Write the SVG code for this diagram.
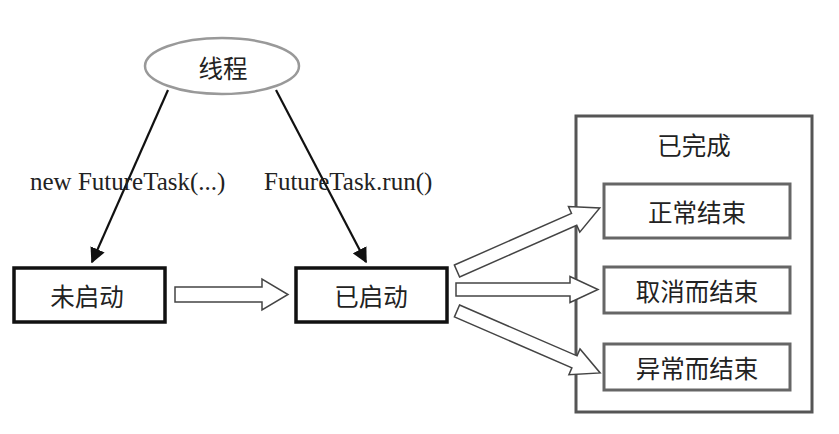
<svg xmlns="http://www.w3.org/2000/svg" width="839" height="434" viewBox="0 0 839 434">
<style>
.cn{font-family:"Noto Sans CJK SC","Noto Sans",sans-serif;font-size:24.5px;fill:#222;text-anchor:middle;dominant-baseline:central}
.lbl{font-family:"Liberation Serif",serif;font-size:25px;fill:#222}
.state{fill:#fff;stroke:#111;stroke-width:3.5}
.sub{fill:#fff;stroke:#666;stroke-width:3}
.hollow{fill:#fff;stroke:#444;stroke-width:1.5;stroke-linejoin:miter}
.line{stroke:#111;stroke-width:2.2;fill:none}
</style>
<defs>
<marker id="ah" viewBox="0 0 10 10" refX="9" refY="5" markerWidth="7" markerHeight="7" orient="auto" markerUnits="strokeWidth">
<path d="M0,0 L10,5 L0,10 z" fill="#111"/>
</marker>
</defs>
<rect width="839" height="434" fill="#fff"/>
<g id="thread">
<ellipse cx="222" cy="66" rx="77" ry="28" fill="#fff" stroke="#999" stroke-width="2.5"/>
<text class="cn" x="223" y="67">线程</text>
</g>
<g id="not-started">
<rect class="state" x="14" y="268" width="151" height="54"/>
<text class="cn" x="87" y="295">未启动</text>
</g>
<g id="started">
<rect class="state" x="296" y="268" width="151" height="54"/>
<text class="cn" x="371" y="295">已启动</text>
</g>
<g id="completed">
<rect x="576" y="116" width="236" height="296" fill="#fff" stroke="#555" stroke-width="3"/>
<text class="cn" x="694" y="144">已完成</text>
</g>
<g id="normal">
<rect class="sub" x="604" y="184" width="186" height="54"/>
<text class="cn" x="697" y="211">正常结束</text>
</g>
<g id="cancelled">
<rect class="sub" x="604" y="267" width="186" height="46"/>
<text class="cn" x="697" y="290">取消而结束</text>
</g>
<g id="exception">
<rect class="sub" x="604" y="344" width="186" height="46"/>
<text class="cn" x="697" y="367">异常而结束</text>
</g>
<g id="connectors">
<line class="line" x1="168" y1="90" x2="92" y2="262" marker-end="url(#ah)"/>
<line class="line" x1="276" y1="90" x2="366" y2="262" marker-end="url(#ah)"/>
<text class="lbl" x="30" y="190">new FutureTask(...)</text>
<text class="lbl" x="264" y="190">FutureTask.run()</text>
<polygon class="hollow" points="175,287 262,287 262,279 288,294.5 262,310 262,302 175,302"/>
<g transform="translate(457,271) rotate(-23.8)">
<polygon class="hollow" points="0,-6.5 128,-6.5 128,-14 156,0 128,14 128,6.5 0,6.5"/>
</g>
<g transform="translate(456,289.5)">
<polygon class="hollow" points="0,-6.5 114,-6.5 114,-13 142,0 114,13 114,6.5 0,6.5"/>
</g>
<g transform="translate(457,311) rotate(23.4)">
<polygon class="hollow" points="0,-6.5 128,-6.5 128,-14 156,0 128,14 128,6.5 0,6.5"/>
</g>
</g>
</svg>
